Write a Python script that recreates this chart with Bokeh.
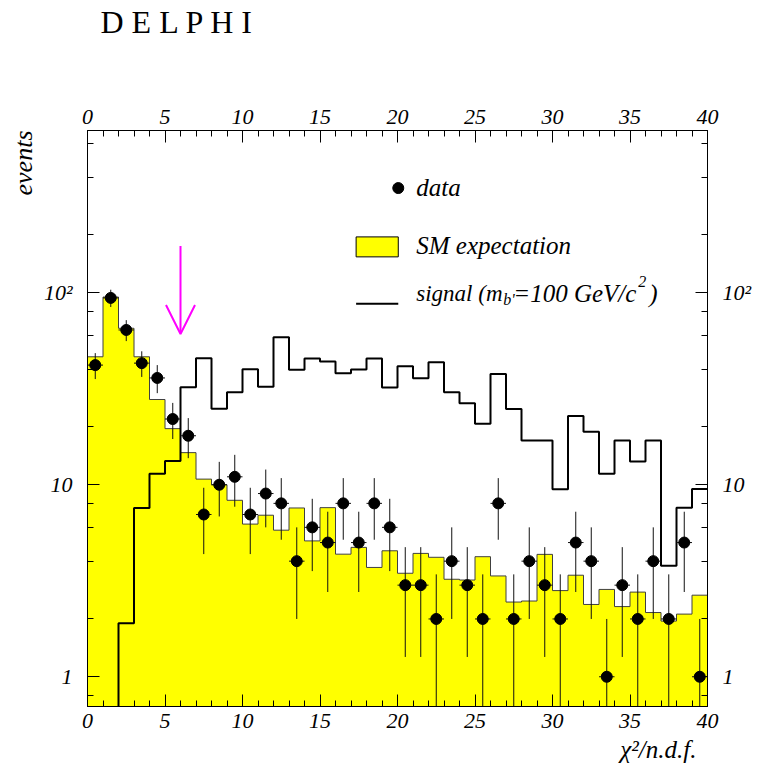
import numpy as np
from bokeh.plotting import figure
from bokeh.models import (LinearAxis, LogAxis, SingleIntervalTicker, LogTicker,
                          Label, Arrow, OpenHead, Range1d, Title)
from bokeh.embed import file_html
from bokeh.resources import INLINE

# ---------------- data ----------------
bin_low = list(range(0, 40))          # bin lower edges, width 1
bin_width = 1.0
sm_expectation = [46.4, 95, 65.3, 46.4, 27.8, 19.6, 14.7, 10.7, 10.0, 8.3,
                  6.24, 6.94, 5.8, 7.57, 5.1, 7.6, 4.35, 4.72, 3.71, 4.53,
                  3.46, 4.39, 4.19, 3.22, 3.19, 4.22, 3.35, 2.45, 2.48, 4.34,
                  2.81, 3.38, 2.38, 2.85, 2.32, 2.76, 2.16, 1.95, 2.12, 2.66]
signal = [0, 0, 1.9, 7.57, 11.4, 13.3, 32.2, 45.6, 24.9, 30.3,
          40, 32.4, 58.6, 39.7, 45.4, 43.8, 38.1, 39.8, 45.4, 32.1,
          41.4, 35.9, 43.4, 30.3, 26.6, 20.8, 37.8, 24.8, 17.0, 17.0,
          9.48, 22.8, 18.9, 11.4, 17.0, 13.2, 17.0, 3.79, 7.6, 9.5]
data_counts = [42, 94, 64, 43, 36, 22, 18, 7, 10, 11,
               7, 9, 8, 4, 6, 5, 8, 5, 8, 6,
               3, 3, 2, 4, 3, 2, 8, 2, 4, 3,
               2, 5, 4, 1, 3, 2, 4, 2, 5, 1]
cut_value = 6.0
y_tick_labels = {1: "1", 10: "10", 100: "10\u00b2"}

# ---------------- derived ----------------
lo = np.array(bin_low, dtype=float)
hi = lo + bin_width
ctr = lo + bin_width / 2
sm = np.array(sm_expectation, dtype=float)
sig = np.array(signal, dtype=float)
dat = np.array(data_counts, dtype=float)
FLOOR = 1e-3
step_x = np.append(lo, hi[-1])
sm_step = np.append(sm, sm[-1])
sig_plot = np.where(sig > 0, sig, FLOOR)
sig_step = np.append(sig_plot, sig_plot[-1])
err = np.sqrt(dat)
err_lo = np.maximum(dat - err, FLOOR)
err_hi = dat + err

W, H = 768, 778
p = figure(width=W, height=H, x_range=Range1d(0, 40), y_range=Range1d(0.7, 700),
           y_axis_type="log", output_backend="svg", toolbar_location=None,
           min_border_left=87, min_border_right=W - 707, min_border_top=130,
           min_border_bottom=H - 706)
p.grid.visible = False
p.outline_line_color = "black"
p.outline_line_width = 1
p.background_fill_color = "white"
p.border_fill_color = "white"

FONT = "Liberation Serif"

# SM expectation (yellow histogram)
p.varea_step(x=step_x, y1=np.full_like(step_x, FLOOR), y2=sm_step,
             step_mode="after", fill_color="#ffff00")
p.step(x=step_x, y=sm_step, mode="after", line_color="#404040", line_width=1)

# signal histogram
p.step(x=step_x, y=sig_step, mode="after", line_color="black", line_width=2)

# data with errors
p.segment(x0=ctr, y0=err_lo, x1=ctr, y1=err_hi, line_color="#111111", line_width=1)
p.segment(x0=lo, y0=dat, x1=hi, y1=dat, line_color="#111111", line_width=1)
p.scatter(x=ctr, y=dat, size=11, color="black")

# cut arrow
p.add_layout(Arrow(end=OpenHead(size=29, line_color="#ff00ff", line_width=2),
                   x_start=cut_value, y_start=175, x_end=cut_value, y_end=61,
                   line_color="#ff00ff", line_width=2))

# axes
def style(ax, standoff):
    ax.major_tick_in = 12
    ax.major_tick_out = 0
    ax.minor_tick_in = 6
    ax.minor_tick_out = 0
    ax.axis_line_color = "black"
    ax.major_tick_line_color = "black"
    ax.minor_tick_line_color = "black"
    ax.major_label_text_font = FONT
    ax.major_label_text_font_style = "italic"
    ax.major_label_text_font_size = "22px"
    ax.major_label_text_color = "black"
    ax.major_label_standoff = standoff

p.xaxis.ticker = SingleIntervalTicker(interval=5, num_minor_ticks=5)
style(p.xaxis[0], 7)
top = LinearAxis(ticker=SingleIntervalTicker(interval=5, num_minor_ticks=5))
style(top, 7)
p.add_layout(top, "above")

p.yaxis.ticker = LogTicker()
p.yaxis.major_label_overrides = y_tick_labels
style(p.yaxis[0], 15)
right = LogAxis(ticker=LogTicker(), major_label_overrides=y_tick_labels)
style(right, 15)
p.add_layout(right, "right")

# legend (drawn by hand)
p.scatter(x=[20.05], y=[351], size=11, color="black")
p.quad(left=[17.33], right=[20.05], bottom=[153.8], top=[195.4],
       fill_color="#ffff00", line_color="black", line_width=1)
p.segment(x0=[17.33], y0=[87.7], x1=[20.05], y1=[87.7], line_color="black", line_width=2)

LX = 21.21
UP = 9
def lab(text, x, y, size="25px", xo=0, yo=0, **kw):
    l = Label(x=x, y=y, text=text, x_offset=xo, y_offset=yo + UP,
              text_font=FONT, text_font_style="italic", text_font_size=size,
              text_color="black", text_baseline="alphabetic", **kw)
    p.add_layout(l)
    return l

lab("data", LX, 319)
lab("SM expectation", LX, 157.5)
lab("signal (m", LX, 88.7, size="23px")
lab("b'", LX, 88.7, size="16px", xo=87, yo=-6)
lab("=100 GeV/c", LX, 88.7, xo=97)
lab("2", LX, 88.7, size="16px", xo=222, yo=12)
lab(")", LX, 88.7, xo=233)

# axis titles and header (outside the frame); blank titles act as spacers
def spacer(side, gap):
    p.add_layout(Title(text="\u00a0", text_font_size="1px", standoff=gap), side)

spacer("left", 0)
p.add_layout(Title(text="events", align="right", text_font=FONT,
                   text_font_style="italic", text_font_size="26px",
                   text_color="black", standoff=0), "left")
spacer("below", 0)
p.add_layout(Title(text="\u03c7\u00b2/n.d.f.", align="right", offset=11, text_font=FONT,
                   text_font_style="italic", text_font_size="25px",
                   text_color="black", standoff=0), "below")
spacer("above", 64)
p.add_layout(Title(text="D E L P H I", align="left", offset=13,
                   text_font=FONT, text_font_size="32px",
                   text_font_style="normal", text_color="black", standoff=0), "above")

open("out.html", "w").write(file_html(p, INLINE))
